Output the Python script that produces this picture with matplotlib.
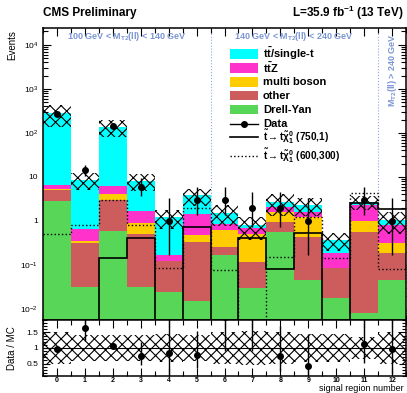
import numpy as np
import matplotlib
matplotlib.use("Agg")
import matplotlib.pyplot as plt
from matplotlib.patches import Rectangle
from matplotlib.lines import Line2D
from matplotlib.ticker import FixedLocator, LogLocator, NullFormatter, MultipleLocator

plt.rcParams['font.family'] = ['Liberation Sans', 'DejaVu Sans']
plt.rcParams['mathtext.fontset'] = 'custom'
plt.rcParams['mathtext.rm'] = 'Liberation Sans'
plt.rcParams['mathtext.it'] = 'Liberation Sans:italic'
plt.rcParams['mathtext.bf'] = 'Liberation Sans:bold'
plt.rcParams['hatch.linewidth'] = 0.8

# signal regions
regions = np.arange(13)

# stacked backgrounds, bottom to top
drell_yan = [2.8, 0.032, 0.59, 0.032, 0.024, 0.015, 0.17, 0.03, 0.56, 0.046, 0.018, 0.008, 0.046]
other = [2.2, 0.29, 2.41, 0.47, 0.096, 0.315, 0.09, 0.087, 0.39, 0.384, 0.067, 0.562, 0.144]
multi_boson = [0.2, 0.03, 1.1, 0.4, 0.002, 0.15, 0.36, 0.38, 0.65, 0.8, 0.0, 0.4, 0.13]
ttz = [1.3, 0.31, 2.2, 0.8, 0.05, 0.97, 0.23, 0.19, 0.5, 0.37, 0.105, 1.33, 0.49]
tt_single_t = [271.5, 7.84, 128.7, 6.4, 1.03, 2.35, 0.65, 0.11, 0.6, 0.7, 0.18, 0.37, 0.22]

# relative uncertainty on total background
bkg_unc = [0.5, 0.42, 0.42, 0.42, 0.45, 0.42, 0.5, 0.55, 0.52, 0.45, 0.45, 0.35, 0.52]

# observed data and error bars
data = [270, 14, 145, 6, 1, 3, 3, 2, 2, 1, 0, 3, 1]
data_lo = [16.4, 3.70, 12.0, 2.38, 0.83, 1.63, 1.63, 1.29, 1.29, 0.83, 0, 1.63, 0.83]
data_hi = [17.4, 4.80, 13.0, 3.58, 2.30, 2.92, 2.92, 2.64, 2.64, 2.30, 0, 2.92, 2.30]

# signal models
sig_750_1 = [1e-4, 1e-4, 0.145, 0.41, 1e-4, 0.73, 1e-4, 0.41, 0.08, 0.53, 1e-4, 2.6, 1.9]
sig_600_300 = [0.5, 0.8, 3.0, 0.8, 0.085, 2.0, 0.077, 1e-4, 0.15, 1.23, 0.14, 4.4, 0.08]

colors = ['#57d657', '#cd5c5c', '#ffcc00', '#ff33cc', '#00ffff']
names = ['Drell-Yan', 'other', 'multi boson', r'$\mathbf{t\bar{t}Z}$', r'$\mathbf{t\bar{t}}$/single-t']
blue = '#7b96d4'

fig = plt.figure(figsize=(4.07, 3.93), dpi=100)
ax = fig.add_axes([43/407, 1-320/393, 363/407, 292/393])
rax = fig.add_axes([43/407, 1-376/393, 363/407, 56/393])

x = np.array(regions)
edges = np.arange(-0.5, 13.0, 1.0)
comps = [drell_yan, other, multi_boson, ttz, tt_single_t]
bottom = np.zeros(13)
for vals, c in zip(comps, colors):
    vals = np.array(vals)
    ax.bar(x, vals, width=1.0, bottom=bottom, color=c, linewidth=0, zorder=2)
    bottom = bottom + vals
total = bottom
unc = np.array(bkg_unc)

ax.bar(x, 2*unc*total, width=1.0, bottom=total*(1-unc), facecolor='none', hatch='xxx',
       edgecolor='k', linewidth=0, zorder=3)

ax.stairs(sig_750_1, edges, color='k', lw=1.2, baseline=None, zorder=4)
ax.stairs(sig_600_300, edges, color='k', lw=1.0, ls=':', baseline=None, zorder=4)

d = np.array(data, dtype=float)
mask = d > 0
ax.errorbar(x[mask], d[mask], yerr=[np.array(data_lo)[mask], np.array(data_hi)[mask]],
            fmt='o', color='k', ms=4, lw=1, capsize=0, zorder=5)

for xv in [5.5, 11.5]:
    ax.axvline(xv, color='#8fa8e0', ls=':', lw=0.8, zorder=1)

ax.text(2.5, 1.5e4, r'100 GeV < M$_{\mathbf{T2}}$(ll) < 140 GeV', color=blue,
        fontsize=6.5, fontweight='bold', ha='center', va='center')
ax.text(8.5, 1.5e4, r'140 GeV < M$_{\mathbf{T2}}$(ll) < 240 GeV', color=blue,
        fontsize=6.5, fontweight='bold', ha='center', va='center')
ax.text(12.0, 2.7e3, r'M$_{\mathbf{T2}}$(ll) > 240 GeV', color=blue, rotation=90,
        fontsize=6.5, fontweight='bold', ha='center', va='center')

ax.set_yscale('log')
ax.set_xlim(-0.5, 12.5)
ax.set_ylim(0.0056, 2.4e4)
ax.yaxis.set_major_locator(FixedLocator([1e-2, 1e-1, 1, 10, 1e2, 1e3, 1e4]))
ax.set_yticklabels([r'$10^{-2}$', r'$10^{-1}$', '1', '10', r'$10^{2}$', r'$10^{3}$', r'$10^{4}$'])
ax.yaxis.set_minor_locator(LogLocator(base=10, subs=np.arange(2, 10), numticks=20))
ax.yaxis.set_minor_formatter(NullFormatter())
ax.xaxis.set_major_locator(MultipleLocator(1))
ax.xaxis.set_minor_locator(MultipleLocator(0.5))
ax.tick_params(axis='x', labelbottom=False)

# ratio panel
ratio = d / total
rlo = np.array(data_lo) / total
rhi = np.array(data_hi) / total
rax.bar(x, 2*unc, width=1.0, bottom=1-unc, facecolor='none', hatch='xxx', edgecolor='k', linewidth=0)
rax.axhline(1.0, color='k', lw=0.8)
rax.errorbar(x[mask], ratio[mask], yerr=[rlo[mask], rhi[mask]], fmt='o', color='k',
             ms=4, lw=1, capsize=0, zorder=5)
rax.set_xlim(-0.5, 12.5)
rax.set_ylim(0.1, 1.9)
rax.set_yticks([0.5, 1, 1.5])
rax.set_yticklabels(['0.5', '1', '1.5'])
rax.yaxis.set_minor_locator(MultipleLocator(0.1))
rax.xaxis.set_major_locator(MultipleLocator(1))
rax.xaxis.set_minor_locator(MultipleLocator(0.5))
for lab in rax.get_xticklabels():
    lab.set_fontweight('bold')

for a in [ax, rax]:
    a.tick_params(which='both', direction='in', top=True, right=True, labelsize=6)
    a.tick_params(which='major', length=6, width=0.8)
    a.tick_params(which='minor', length=3.5, width=0.8)
    for s in a.spines.values():
        s.set_linewidth(1.1)
rax.tick_params(axis='x', labelsize=5, pad=0.8)
rax.tick_params(axis='y', which='major', length=5)
rax.tick_params(axis='y', which='minor', length=3)

# legend, drawn entry by entry
leg_labels = names[::-1] + ['Data',
                            r'$\mathbf{\tilde{t}\rightarrow t\tilde{\chi}^{0}_{1}}$ (750,1)',
                            r'$\mathbf{\tilde{t}\rightarrow t\tilde{\chi}^{0}_{1}}$ (600,300)']
leg_rows = [54, 68, 82, 96, 110, 124, 137, 156]
leg_sizes = [8, 8, 8, 8, 8, 8, 7.2, 7.2]
W, H = 407.0, 393.0
for i, (lab, yr) in enumerate(zip(leg_labels, leg_rows)):
    yf = 1 - yr / H
    if i < 5:
        fig.patches.append(Rectangle((230/W, yf - 4.5/H), 28/W, 9/H, facecolor=colors[::-1][i],
                                     edgecolor='none', transform=fig.transFigure))
    elif i == 5:
        fig.lines.append(Line2D([230/W, 258/W], [yf, yf], color='k', lw=1, transform=fig.transFigure))
        fig.lines.append(Line2D([244/W], [yf], color='k', marker='o', ms=4, transform=fig.transFigure))
    else:
        fig.lines.append(Line2D([230/W, 258/W], [yf, yf], color='k', lw=1.2 if i == 6 else 1.0,
                                ls='-' if i == 6 else ':', transform=fig.transFigure))
    fig.text(263/W, yf, lab, fontsize=leg_sizes[i], fontweight='bold', va='center', ha='left')

fig.text(43/407, 1-13/393, 'CMS Preliminary', fontsize=8.5, fontweight='bold', va='center')
fig.text(404/407, 1-13/393, r'L=35.9 fb$^{\mathbf{-1}}$ (13 TeV)', fontsize=8.5,
         fontweight='bold', va='center', ha='right')
fig.text(12/407, 1-45/393, 'Events', rotation=90, fontsize=7, ha='center', va='center')
fig.text(12/407, 1-348/393, 'Data / MC', rotation=90, fontsize=7, ha='center', va='center')
fig.text(404/407, 0.0, 'signal region number', fontsize=6.5, ha='right', va='bottom')

fig.savefig('out.png', dpi=100)
